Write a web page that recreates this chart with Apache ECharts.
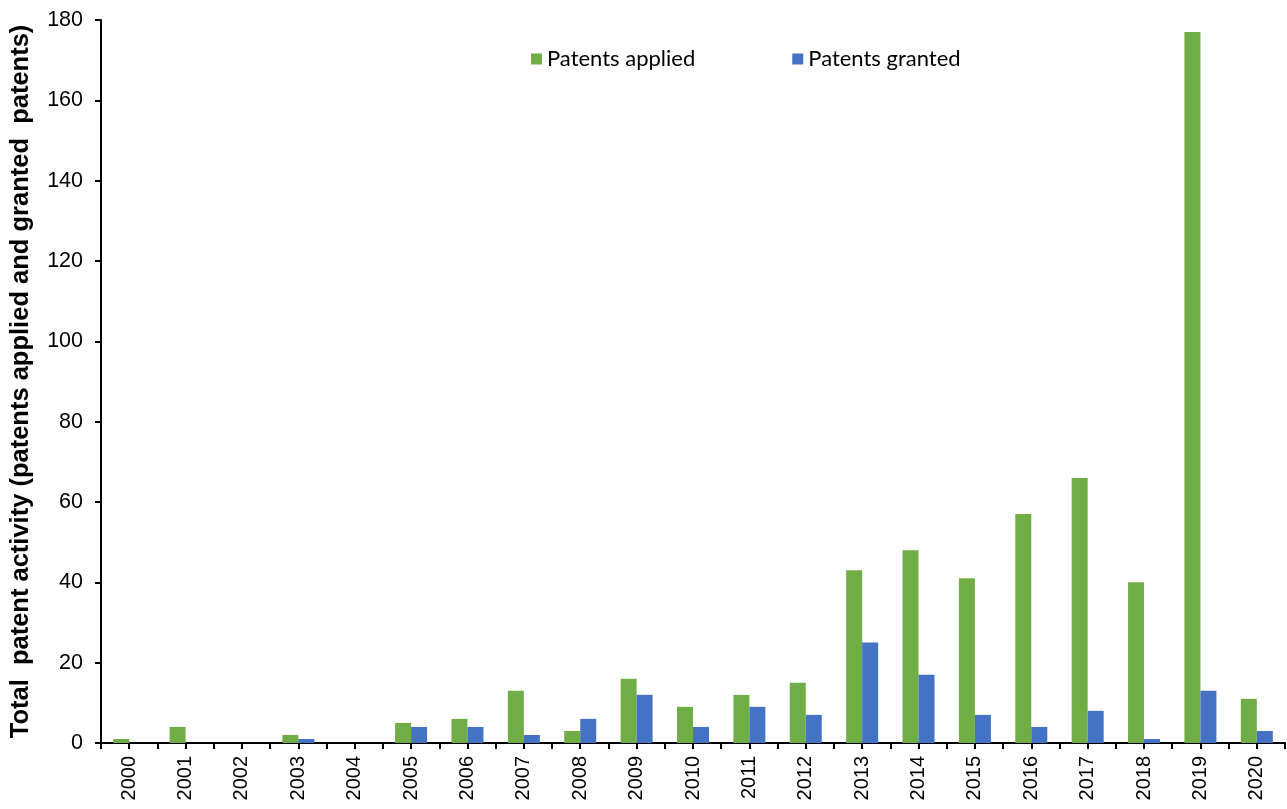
<!DOCTYPE html>
<html>
<head>
<meta charset="utf-8">
<script src="https://cdn.jsdelivr.net/npm/echarts@6/dist/echarts.min.js"></script>
<style>
  html, body { margin: 0; padding: 0; background: #fff; }
  #chart { width: 1287px; height: 809px; }
</style>
</head>
<body>
<div id="chart"></div>
<script>
// Yearly patent activity
const years = ['2000','2001','2002','2003','2004','2005','2006','2007','2008','2009','2010',
               '2011','2012','2013','2014','2015','2016','2017','2018','2019','2020'];
const patentsApplied = [1, 4, 0, 2, 0, 5, 6, 13, 3, 16, 9, 12, 15, 43, 48, 41, 57, 66, 40, 177, 11];
const patentsGranted = [0, 0, 0, 1, 0, 4, 4, 2, 6, 12, 4, 9, 7, 25, 17, 7, 4, 8, 1, 13, 3];
const yTicks = { min: 0, max: 180, interval: 20 };

const chart = echarts.init(document.getElementById('chart'));
const sans = '"Liberation Sans", Arial, sans-serif';

chart.setOption({
  animation: false,
  grid: { left: 101, right: 2, top: 20, bottom: 66, containLabel: false, outerBoundsMode: 'none' },
  legend: {
    left: 526,
    top: 43,
    itemWidth: 11,
    itemHeight: 11,
    itemGap: 97,
    icon: 'rect',
    textStyle: { fontFamily: 'Lato, "Open Sans", sans-serif', fontSize: 22, color: '#000' },
    data: ['Patents applied', 'Patents granted']
  },
  xAxis: [
    {
      type: 'category',
      data: years,
      boundaryGap: true,
      axisLine: { lineStyle: { color: '#000', width: 2 } },
      axisTick: { show: true, interval: 0, length: 6, lineStyle: { color: '#000', width: 2 } },
      axisLabel: { interval: 0, rotate: 90, margin: 13, fontFamily: sans, fontSize: 20, color: '#000' },
      splitLine: { show: false }
    },
    {
      // center ticks under each year
      type: 'category',
      data: years,
      position: 'bottom',
      axisLine: { show: false },
      axisTick: { show: true, interval: 0, alignWithLabel: true, length: 6, lineStyle: { color: '#000', width: 2 } },
      axisLabel: { show: false },
      splitLine: { show: false }
    }
  ],
  yAxis: {
    type: 'value',
    min: yTicks.min,
    max: yTicks.max,
    interval: yTicks.interval,
    name: 'Total  patent activity (patents applied and granted  patents)',
    nameLocation: 'middle',
    nameGap: 67,
    nameTextStyle: { fontFamily: sans, fontSize: 25.5, fontWeight: 'bold', color: '#000' },
    axisLine: { show: true, lineStyle: { color: '#000', width: 2 } },
    axisTick: { show: true, length: 6, lineStyle: { color: '#000', width: 2 } },
    axisLabel: { margin: 18, fontFamily: sans, fontSize: 21.5, color: '#000' },
    splitLine: { show: false }
  },
  series: [
    {
      name: 'Patents applied',
      type: 'bar',
      data: patentsApplied,
      barWidth: 16,
      barGap: '0%',
      itemStyle: { color: '#70AD47' }
    },
    {
      name: 'Patents granted',
      type: 'bar',
      data: patentsGranted,
      barWidth: 16,
      barGap: '0%',
      itemStyle: { color: '#4472C4' }
    }
  ]
});
</script>
</body>
</html>
